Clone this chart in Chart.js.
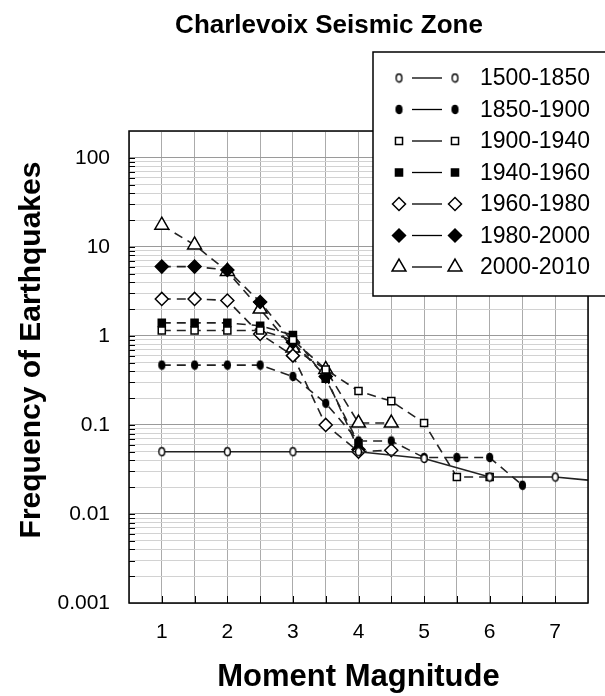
<!DOCTYPE html>
<html>
<head>
<meta charset="utf-8">
<script src="https://cdn.jsdelivr.net/npm/chart.js@4/dist/chart.umd.min.js"></script>
<style>
html,body{margin:0;padding:0;background:#fff;}
#wrap{width:605px;height:696px;position:relative;}
</style>
</head>
<body>
<div id="wrap"><canvas id="c"></canvas></div>
<script>
// ---- data ----
const chartTitle = "Charlevoix Seismic Zone";
const xTitle = "Moment Magnitude";
const yTitle = "Frequency of Earthquakes";
const magnitudes = [1, 1.5, 2, 2.5, 3, 3.5, 4, 4.5, 5, 5.5, 6, 6.5, 7, 7.5];
const xTickLabels = [1, 2, 3, 4, 5, 6, 7];
const yTickLabels = [0.001, 0.01, 0.1, 1, 10, 100];
const seriesLabels = ["1500-1850", "1850-1900", "1900-1940", "1940-1960", "1960-1980", "1980-2000", "2000-2010"];
const s1500_1850 = [0.05, null, 0.05, null, 0.05, null, 0.05, null, 0.042, null, 0.026, null, 0.026, 0.024];
const s1850_1900 = [0.47, 0.47, 0.47, 0.47, 0.35, 0.175, 0.066, 0.066, 0.043, 0.043, 0.043, 0.021, null, null];
const s1900_1940 = [1.15, 1.15, 1.15, 1.15, 0.9, 0.42, 0.24, 0.185, 0.105, 0.026, 0.026, null, null, null];
const s1940_1960 = [1.4, 1.4, 1.4, 1.3, 1.02, 0.33, 0.062, null, null, null, null, null, null, null];
const s1960_1980 = [2.6, 2.6, 2.5, 1.05, 0.6, 0.1, 0.05, 0.052, null, null, null, null, null, null];
const s1980_2000 = [6, 6, 5.5, 2.4, 0.85, 0.35, 0.053, null, null, null, null, null, null, null];
const s2000_2010 = [17.5, 10.5, 5.3, 2.0, 0.73, 0.42, 0.105, 0.105, null, null, null, null, null, null];

const seriesValues = [s1500_1850, s1850_1900, s1900_1940, s1940_1960, s1960_1980, s1980_2000, s2000_2010];

// ---- styles ----
const FONT = "'Liberation Sans', Arial, Helvetica, sans-serif";

function ellipseMarker(fill) {
  const cv = document.createElement('canvas');
  cv.width = 9; cv.height = 11;
  const g = cv.getContext('2d');
  g.beginPath();
  g.ellipse(4.5, 5.5, 2.9, 4.0, 0, 0, Math.PI * 2);
  g.fillStyle = fill; g.fill();
  g.lineWidth = 1.4; g.strokeStyle = '#000'; g.stroke();
  return cv;
}

const markerStyles = [
  {pointStyle: ellipseMarker('#fff'), radius: 4, fill: '#fff', dash: []},
  {pointStyle: ellipseMarker('#000'), radius: 4, fill: '#000', dash: [9, 6]},
  {pointStyle: 'rect', radius: 5, fill: '#fff', dash: [9, 6]},
  {pointStyle: 'rect', radius: 5, fill: '#000', dash: [9, 6]},
  {pointStyle: 'rectRot', radius: 6.5, fill: '#fff', dash: [9, 6]},
  {pointStyle: 'rectRot', radius: 6.5, fill: '#000', dash: [9, 6]},
  {pointStyle: 'triangle', radius: 8, fill: '#fff', dash: [9, 6]}
];

const datasets = seriesLabels.map((lab, i) => {
  const st = markerStyles[i];
  const pts = [];
  magnitudes.forEach((m, j) => { if (seriesValues[i][j] !== null) pts.push({x: m, y: seriesValues[i][j]}); });
  return {
    label: lab,
    data: pts,
    showLine: true,
    borderColor: '#222',
    borderWidth: 1.6,
    borderDash: st.dash,
    pointStyle: st.pointStyle,
    pointRadius: (c) => (c.raw && c.raw.x > 7.4) ? 0 : st.radius,
    pointBackgroundColor: st.fill,
    pointBorderColor: '#000',
    pointBorderWidth: 1.5,
    tension: 0,
    spanGaps: true
  };
});

const extras = {
  id: 'extras',
  afterDraw(chart) {
    const {ctx, chartArea: a, scales: {x, y}} = chart;
    ctx.save();
    ctx.strokeStyle = '#000';
    ctx.lineWidth = 1;
    ctx.setLineDash([]);
    y.ticks.forEach(t => {
      const py = Math.round(y.getPixelForValue(t.value)) + 0.5;
      if (py < a.top + 1 || py > a.bottom - 1) return;
      ctx.beginPath(); ctx.moveTo(a.left, py); ctx.lineTo(a.left + 6, py); ctx.stroke();
    });
    x.ticks.forEach(t => {
      const px = Math.round(x.getPixelForValue(t.value)) + 0.5;
      if (px < a.left + 1 || px > a.right - 1) return;
      ctx.beginPath(); ctx.moveTo(px, a.bottom); ctx.lineTo(px, a.bottom - 7); ctx.stroke();
    });
    ctx.lineWidth = 1.5;
    ctx.strokeRect(a.left, a.top, a.width, a.height);

    // chart title
    ctx.fillStyle = '#000';
    ctx.font = 'bold 26px ' + FONT;
    ctx.textAlign = 'center';
    ctx.textBaseline = 'middle';
    ctx.fillText(chartTitle, 329, 26);

    // y axis title
    ctx.save();
    ctx.translate(32, 350);
    ctx.rotate(-Math.PI / 2);
    ctx.font = 'bold 30px ' + FONT;
    ctx.fillText(yTitle, 0, 0);
    ctx.restore();

    // legend box
    const bx = 373, by = 52, bw = 240, bh = 244;
    ctx.fillStyle = '#fff';
    ctx.fillRect(bx, by, bw, bh);
    ctx.lineWidth = 1.5;
    ctx.strokeStyle = '#000';
    ctx.strokeRect(bx, by, bw, bh);
    chart.data.datasets.forEach((ds, i) => {
      const st = markerStyles[i];
      const ry = 78 + i * 31.5;
      ctx.setLineDash([]);
      ctx.lineWidth = 1.3;
      ctx.strokeStyle = '#000';
      ctx.beginPath(); ctx.moveTo(412, ry); ctx.lineTo(442, ry); ctx.stroke();
      [399, 455].forEach(mx => {
        ctx.fillStyle = st.fill;
        ctx.strokeStyle = '#000';
        ctx.lineWidth = 1.5;
        Chart.helpers.drawPoint(ctx, {pointStyle: st.pointStyle, radius: st.radius, rotation: 0, borderWidth: 1.5}, mx, ry);
      });
      ctx.fillStyle = '#000';
      ctx.font = '23px ' + FONT;
      ctx.textAlign = 'left';
      ctx.textBaseline = 'middle';
      ctx.fillText(ds.label, 480, ry + 1);
    });
    ctx.restore();
  }
};

new Chart(document.getElementById('c'), {
  type: 'scatter',
  data: {datasets},
  plugins: [extras],
  options: {
    responsive: true,
    maintainAspectRatio: false,
    animation: false,
    layout: {padding: {top: 131, right: 4, left: 0, bottom: 0}},
    plugins: {
      legend: {display: false},
      tooltip: {enabled: false},
      title: {display: false, text: chartTitle}
    },
    scales: {
      x: {
        type: 'linear',
        min: 0.5, max: 7.5,
        afterFit: (s) => { s.height = 93; },
        ticks: {
          stepSize: 0.5,
          autoSkip: false,
          maxRotation: 0,
          padding: 17,
          color: '#000',
          font: {family: FONT, size: 21},
          callback: (v) => xTickLabels.includes(v) ? String(v) : ''
        },
        grid: {color: '#ababab', lineWidth: 1, drawTicks: false},
        border: {display: false},
        title: {
          display: true, text: xTitle, color: '#000',
          font: {family: FONT, size: 31, weight: 'bold'},
          padding: {top: 0, bottom: 0}
        }
      },
      y: {
        type: 'logarithmic',
        min: 0.001, max: 200,
        afterFit: (s) => { s.width = 129; },
        afterBuildTicks: (s) => {
          const t = [];
          for (let e = -3; e <= 2; e++) {
            for (let k = 1; k <= 9; k++) {
              const v = parseFloat((k * Math.pow(10, e)).toPrecision(6));
              if (v >= 0.001 && v <= 200) t.push({value: v});
            }
          }
          s.ticks = t;
        },
        ticks: {
          autoSkip: false,
          padding: 19,
          color: '#000',
          font: {family: FONT, size: 21},
          callback: (v) => yTickLabels.some(d => Math.abs(d - v) < d * 1e-6) ? String(v) : ''
        },
        grid: {
          color: (c) => {
            const l = Math.log10(c.tick ? c.tick.value : 1);
            return Math.abs(l - Math.round(l)) < 1e-6 ? '#9a9a9a' : '#d2d2d2';
          },
          lineWidth: 1,
          drawTicks: false
        },
        border: {display: false},
        title: {display: false, text: yTitle}
      }
    }
  }
});
</script>
</body>
</html>
